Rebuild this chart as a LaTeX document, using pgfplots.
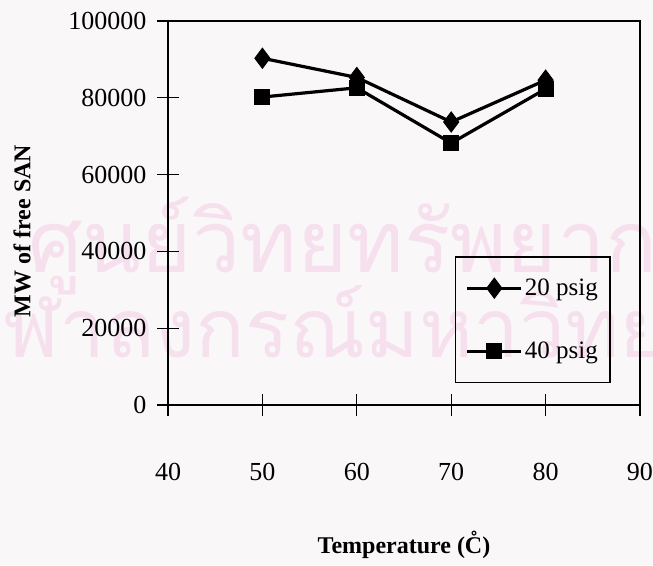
\documentclass[border=0pt]{standalone}
\usepackage{pgfplots}
\pgfplotsset{compat=1.18}
\usepackage{fontspec}
\setmainfont{Liberation Serif}
\newfontfamily\thaifont[Script=Thai]{Loma}
\definecolor{wm}{RGB}{247,224,238}
\definecolor{paper}{RGB}{249,247,248}
\begin{document}
\begin{tikzpicture}[x=1pt,y=1pt]
\path[use as bounding box, fill=paper] (0,0) rectangle (653,565);
\node[anchor=base west, text=wm, inner sep=0, font=\thaifont\fontsize{86}{96}\selectfont] at (28,292) {ศูนย์วิทยทรัพยากร};
\node[anchor=base west, text=wm, inner sep=0, font=\thaifont\fontsize{82}{92}\selectfont] at (-45,207) {จุฬาลงกรณ์มหาวิทยาลัย};
\begin{axis}[
  at={(168pt,160pt)}, anchor=south west,
  scale only axis, width=472pt, height=384pt,
  xmin=40, xmax=90, ymin=0, ymax=100000,
  xtick={40,50,...,90}, ytick={0,20000,...,100000},
  xtick pos=bottom, ytick pos=left,
  tick align=center, major tick length=22pt,
  every tick/.style={black, line width=1.3pt},
  axis line style={line width=2.5pt},
  scaled y ticks=false,
  /pgf/number format/assume math mode=true,
  yticklabel style={/pgf/number format/fixed, /pgf/number format/1000 sep={}, xshift=-7pt},
  xticklabel style={yshift=-44pt},
  tick label style={font=\fontsize{26}{30}\selectfont},
  xlabel={Temperature (\r{C})},
  ylabel={MW of free SAN},
  xlabel style={at={(axis description cs:0.5,-0.365)}, anchor=center, font=\bfseries\fontsize{24}{28}\selectfont},
  ylabel style={at={(axis description cs:-0.309,0.453)}, anchor=center, font=\bfseries\fontsize{24}{28}\selectfont},
  legend image code/.code={\draw[mark repeat=2,mark phase=2,#1] plot coordinates {(0pt,0pt) (27pt,0pt) (54pt,0pt)};},
  legend style={at={(axis description cs:0.608,0.057)}, anchor=south west, draw=black, line width=1.5pt, font=\fontsize{25}{29}\selectfont, inner xsep=10pt, inner ysep=20pt, row sep=41pt, fill=none},
  legend cell align=left,
]
\addplot[black, line width=3.2pt, mark=diamond*, mark size=10pt, mark options={solid, fill=black, line width=1pt}] coordinates {(50,90300) (60,85300) (70,73700) (80,84600)};
\addlegendentry{20 psig}
\addplot[black, line width=3.2pt, mark=square*, mark size=7.5pt, mark options={solid, fill=black, line width=1pt}] coordinates {(50,80200) (60,82600) (70,68200) (80,82300)};
\addlegendentry{40 psig}
\end{axis}
\end{tikzpicture}
\end{document}
